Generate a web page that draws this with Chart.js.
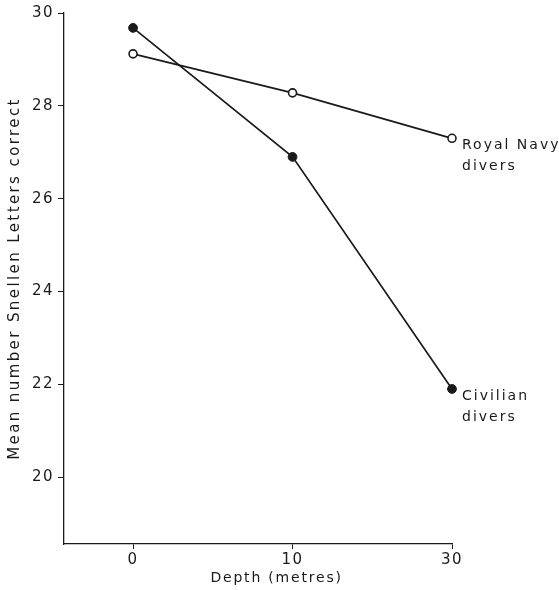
<!DOCTYPE html>
<html lang="en">
<head>
  <meta charset="UTF-8">
  <title>Snellen letters correct vs depth</title>
  <script src="https://cdn.jsdelivr.net/npm/chart.js@4.4.1/dist/chart.umd.min.js"></script>
  <style>
    body { margin: 0; background: #fff; }
    #wrap { width: 559px; height: 590px; }
  </style>
</head>
<body>
  <div id="wrap"><canvas id="divingChart"></canvas></div>
  <script>
    // depths as printed on the axis, and where they sit on the drawn (evenly spaced) axis
    const depthLabels = ['0', '10', '30'];
    const depthPos = [0, 10, 20];

    const royalNavy = [29.12, 28.28, 27.3];
    const civilian = [29.68, 26.9, 21.9];
    const yTicks = [20, 22, 24, 26, 28, 30];

    const seriesNames = [['Royal Navy', 'divers'], ['Civilian', 'divers']];
    const xTitle = 'Depth (metres)';
    const yTitle = 'Mean number Snellen Letters correct';

    const ink = '#1a1a1a';
    const fontFamily = '"DejaVu Sans", sans-serif';

    function toPoints(vals) {
      return vals.map((v, i) => ({ x: depthPos[i], y: v }));
    }

    // wide lettering like the original figure
    const spacing = {
      id: 'spacing',
      beforeUpdate(chart) { chart.ctx.letterSpacing = '1.5px'; },
      beforeDraw(chart) { chart.ctx.letterSpacing = '1.5px'; }
    };

    // axis titles and series names written beside the last point
    const annotations = {
      id: 'annotations',
      afterDraw(chart) {
        const ctx = chart.ctx;
        const area = chart.chartArea;
        ctx.save();
        ctx.fillStyle = ink;
        ctx.textBaseline = 'middle';

        ctx.letterSpacing = '2px';
        ctx.font = '14px ' + fontFamily;
        ctx.textAlign = 'left';
        chart.data.datasets.forEach((ds, i) => {
          const pts = chart.getDatasetMeta(i).data;
          const last = pts[pts.length - 1];
          seriesNames[i].forEach((line, k) => {
            ctx.fillText(line, last.x + 10, last.y + 7 + k * 21);
          });
        });

        ctx.textAlign = 'center';
        ctx.letterSpacing = '1.8px';
        ctx.font = '14px ' + fontFamily;
        ctx.fillText(xTitle, chart.scales.x.getPixelForValue(9), area.bottom + 34);

        ctx.translate(15, (area.top + area.bottom) / 2);
        ctx.rotate(-Math.PI / 2);
        ctx.letterSpacing = '2.4px';
        ctx.font = '15px ' + fontFamily;
        ctx.fillText(yTitle, 0, 0);
        ctx.restore();
      }
    };

    const ctx = document.getElementById('divingChart').getContext('2d');
    const chart = new Chart(ctx, {
      type: 'line',
      data: {
        datasets: [
          {
            label: 'Royal Navy divers',
            data: toPoints(royalNavy),
            borderColor: ink,
            borderWidth: 1.7,
            pointRadius: 4,
            pointBorderWidth: 1.6,
            pointBackgroundColor: '#fff',
            pointBorderColor: ink,
            tension: 0,
            clip: false
          },
          {
            label: 'Civilian divers',
            data: toPoints(civilian),
            borderColor: ink,
            borderWidth: 1.7,
            pointRadius: 4.4,
            pointBorderWidth: 1,
            pointBackgroundColor: ink,
            pointBorderColor: ink,
            tension: 0,
            clip: false
          }
        ]
      },
      options: {
        responsive: true,
        maintainAspectRatio: false,
        animation: false,
        layout: { padding: { top: 12, right: 107, left: 0, bottom: 0 } },
        plugins: {
          legend: { display: false },
          tooltip: { enabled: false }
        },
        scales: {
          x: {
            type: 'linear',
            min: -4.33,
            max: 20,
            afterBuildTicks(scale) {
              scale.ticks = depthPos.map(v => ({ value: v }));
            },
            afterFit(scale) { scale.height = 46; },
            grid: { drawOnChartArea: false, drawTicks: true, tickLength: 5, color: ink, lineWidth: 1 },
            border: { display: true, color: ink, width: 1.3 },
            ticks: {
              color: ink,
              font: { family: fontFamily, size: 15 },
              padding: 2,
              maxRotation: 0,
              callback(value) {
                const idx = depthPos.indexOf(value);
                return idx >= 0 ? depthLabels[idx] : '';
              }
            }
          },
          y: {
            min: 18.56,
            max: 30,
            afterBuildTicks(scale) {
              scale.ticks = yTicks.map(v => ({ value: v }));
            },
            afterFit(scale) { scale.width = 64; },
            grid: { drawOnChartArea: false, drawTicks: true, tickLength: 6, color: ink, lineWidth: 1 },
            border: { display: true, color: ink, width: 1.3 },
            ticks: {
              color: ink,
              font: { family: fontFamily, size: 15 },
              padding: 4
            }
          }
        }
      },
      plugins: [spacing, annotations]
    });
  </script>
</body>
</html>
